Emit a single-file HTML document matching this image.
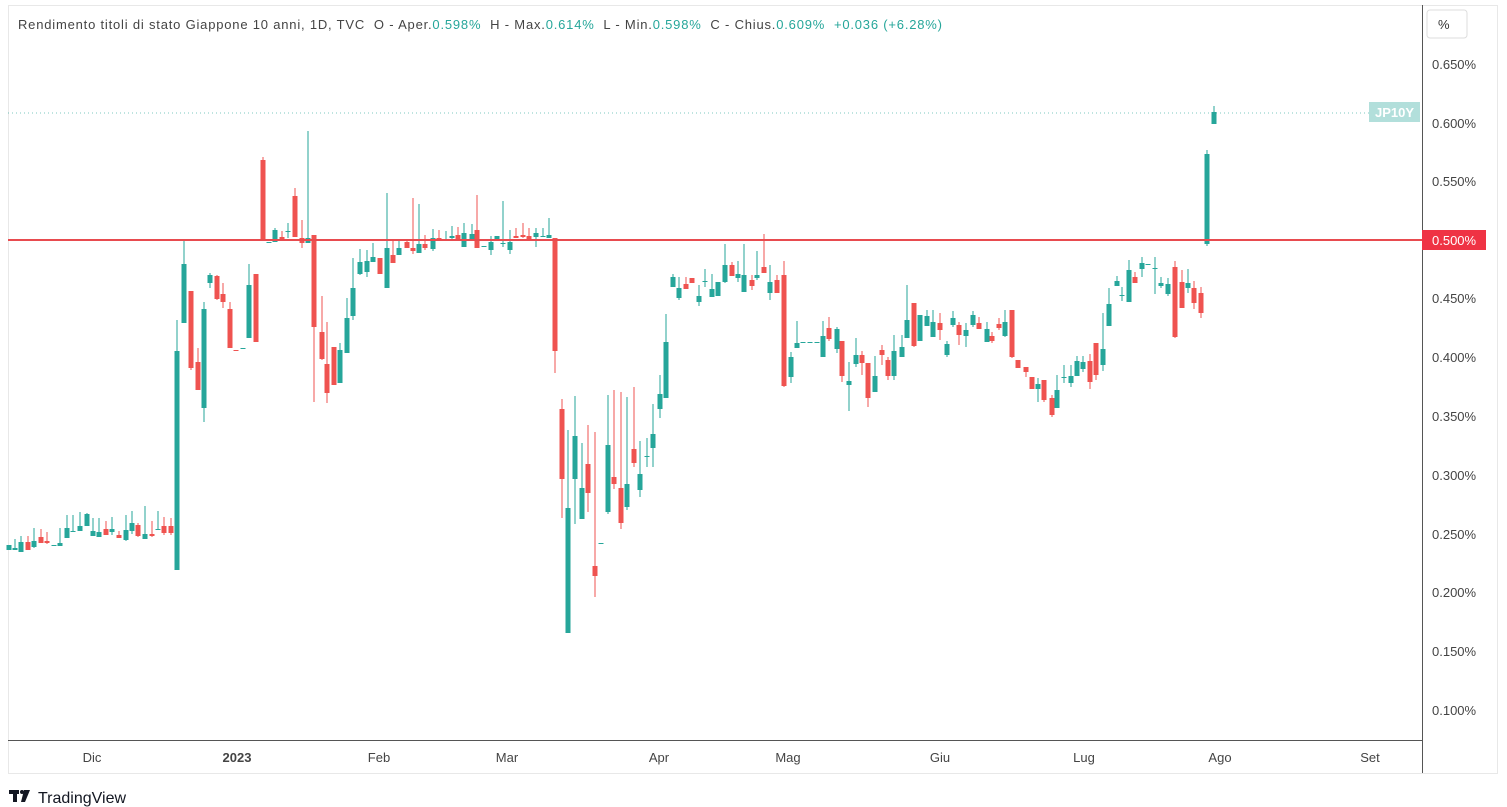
<!DOCTYPE html>
<html><head><meta charset="utf-8"><style>
body{margin:0;width:1507px;height:807px;background:#fff;overflow:hidden;font-family:"Liberation Sans",sans-serif}
svg{position:absolute;left:0;top:0}
</style></head><body>
<svg id="s" width="1507" height="807" xmlns="http://www.w3.org/2000/svg">
<rect x="8.5" y="5.5" width="1489" height="768" fill="#fff" stroke="#e8e8e8"/>
<line x1="1422.5" y1="5" x2="1422.5" y2="773" stroke="#555"/>
<line x1="8" y1="740.5" x2="1422" y2="740.5" stroke="#555"/>
<line x1="8" y1="113" x2="1370" y2="113" stroke="#26a69a" stroke-dasharray="1,3" opacity="0.6"/>
<g id="c"></g>
<line x1="8" y1="240" x2="1422" y2="240" stroke="#e84b4f" stroke-width="2"/>
<g font-size="13" fill="#444">
<text x="1432" y="69">0.650%</text><text x="1432" y="128">0.600%</text><text x="1432" y="186">0.550%</text>
<text x="1432" y="303">0.450%</text><text x="1432" y="362">0.400%</text><text x="1432" y="421">0.350%</text>
<text x="1432" y="480">0.300%</text><text x="1432" y="539">0.250%</text><text x="1432" y="597">0.200%</text>
<text x="1432" y="656">0.150%</text><text x="1432" y="715">0.100%</text>
</g>
<rect x="1422" y="230" width="64" height="20" fill="#ef3344"/>
<text x="1432" y="245" font-size="13" fill="#fff">0.500%</text>
<rect x="1369" y="102" width="51" height="20" fill="#b2dfdb"/>
<text x="1375" y="117" font-size="13" fill="#fff" font-weight="bold">JP10Y</text>
<rect x="1427" y="10" width="40" height="28" rx="3" fill="#fff" stroke="#ddd"/>
<text x="1438" y="29" font-size="13" fill="#333">%</text>
<g font-size="13" fill="#444" text-anchor="middle">
<text x="92" y="762">Dic</text><text x="237" y="762" font-weight="bold">2023</text><text x="379" y="762">Feb</text>
<text x="507" y="762">Mar</text><text x="659" y="762">Apr</text><text x="788" y="762">Mag</text>
<text x="940" y="762">Giu</text><text x="1084" y="762">Lug</text><text x="1220" y="762">Ago</text><text x="1370" y="762">Set</text>
</g>
<text x="18" y="29" font-size="13" fill="#444" xml:space="preserve" textLength="924" lengthAdjust="spacing">Rendimento titoli di stato Giappone 10 anni, 1D, TVC  O - Aper.<tspan fill="#26a69a">0.598%</tspan>  H - Max.<tspan fill="#26a69a">0.614%</tspan>  L - Min.<tspan fill="#26a69a">0.598%</tspan>  C - Chius.<tspan fill="#26a69a">0.609%</tspan>  <tspan fill="#26a69a">+0.036 (+6.28%)</tspan></text>
<g fill="#131722"><rect x="9" y="790" width="10" height="4"/><rect x="13" y="790" width="4" height="12"/><circle cx="22" cy="792" r="2"/><polygon points="24,790 30,790 25,802 21,802"/></g>
<text x="38" y="803" font-size="16" fill="#131722">TradingView</text>
</svg>
<script>
var d="9,545,550,545,550,g;15,548,550,539,550,g;21,542,552,536,552,g;28,542,550,536,550,r;34,541,547,528,548,g;41,537,543,529,543,r;47,541,543,532,544,r;54,545,546,545,546,g;60,543,546,528,546,g;67,528,538,515,538,g;73,531,532,515,532,g;80,526,531,512,531,g;87,514,526,513,526,g;93,531,536,518,536,g;99,532,537,518,537,g;106,529,535,521,535,r;112,529,532,517,535,g;119,535,538,531,538,r;126,530,540,515,541,g;132,523,531,511,534,g;138,525,536,523,537,r;145,534,539,506,539,g;152,534,536,521,537,r;158,529,530,511,530,g;164,526,533,517,535,r;171,526,533,518,535,r;177,351,570,320,570,g;184,264,323,240,323,g;191,291,368,291,370,r;198,362,390,348,390,r;204,309,408,302,422,g;210,275,283,273,288,g;217,276,299,275,300,r;223,294,302,283,308,r;230,309,348,302,348,r;236,350,351,350,351,r;243,348,349,348,349,g;249,285,338,264,338,g;256,274,342,274,342,r;263,160,240,157,240,r;269,242,243,242,243,g;275,230,242,228,242,g;282,237,239,231,240,r;288,231,232,223,238,g;295,196,237,188,237,r;302,238,243,220,248,r;308,238,243,131,243,g;314,235,327,235,402,r;322,332,359,296,360,r;327,364,393,322,403,r;334,347,385,347,385,r;340,350,383,343,383,g;347,318,353,298,353,g;353,288,316,258,320,g;360,262,274,249,275,g;367,261,272,250,277,g;373,257,262,243,262,g;380,258,274,258,274,r;387,248,288,193,288,g;393,255,263,240,263,r;399,248,255,240,255,g;407,242,248,240,248,r;413,248,251,198,254,r;419,244,253,204,253,g;425,244,248,235,250,r;433,238,249,229,251,g;439,238,240,230,241,r;446,240,241,231,241,g;452,236,238,226,239,g;458,235,240,227,240,r;464,233,247,223,247,g;472,234,239,224,239,g;477,230,248,195,248,r;484,246,247,246,247,g;491,242,250,236,255,g;497,236,240,236,240,g;503,243,244,201,247,g;510,242,250,230,254,g;516,236,238,228,238,r;523,235,237,223,238,r;529,236,240,228,241,r;536,233,237,228,247,g;543,236,237,228,237,g;549,235,238,218,238,g;555,238,351,238,373,r;562,409,479,399,518,r;568,508,633,430,633,g;575,436,479,396,524,g;582,488,519,443,519,g;588,464,493,425,512,r;595,566,576,432,597,r;601,543,544,543,544,g;608,445,512,395,514,g;614,477,484,390,489,r;621,488,523,392,529,r;627,484,507,397,510,g;634,449,463,387,467,r;640,474,490,441,497,g;647,456,457,438,467,g;653,434,448,404,467,g;660,394,409,375,418,g;666,342,398,314,398,g;673,277,287,274,287,g;679,288,298,277,300,g;686,284,289,277,289,r;692,278,283,278,283,r;699,296,302,285,306,g;705,281,282,269,287,g;712,289,297,274,297,g;718,282,296,282,296,g;725,265,282,244,283,g;732,265,276,262,276,r;738,274,278,261,282,g;744,275,292,244,292,g;752,280,286,275,290,r;757,275,278,251,280,g;764,267,273,234,273,r;770,282,293,265,300,g;777,280,293,275,293,r;784,275,386,261,387,r;791,357,377,352,383,g;797,343,348,321,348,g;803,342,343,342,343,g;810,342,343,342,343,g;817,342,343,342,343,g;823,336,357,321,357,g;829,328,339,317,341,r;837,329,349,327,353,g;842,341,376,341,382,r;849,381,385,362,411,g;856,355,364,338,367,g;862,355,363,351,375,r;868,363,398,363,407,r;875,376,392,356,392,g;882,350,355,345,365,r;888,360,376,357,380,r;894,351,376,335,380,g;902,347,357,335,357,g;907,320,338,285,338,g;914,303,346,303,347,r;920,315,341,315,341,g;927,316,326,310,326,g;933,322,337,310,337,g;940,323,330,313,340,r;947,344,355,341,357,g;953,318,325,311,327,g;959,325,335,322,345,r;966,330,336,323,347,g;973,315,325,311,327,g;979,323,329,317,329,r;987,329,342,322,342,g;992,336,341,332,343,r;999,324,328,318,330,r;1005,322,336,310,337,g;1012,310,357,310,358,r;1018,360,368,360,368,r;1026,367,372,367,377,r;1032,377,389,377,389,r;1038,384,389,378,402,g;1044,380,400,380,402,r;1052,398,415,395,417,r;1057,390,408,375,408,g;1064,377,378,365,383,g;1071,376,383,365,387,g;1077,361,376,356,376,g;1083,362,369,356,372,g;1090,361,382,354,389,r;1096,343,375,343,380,r;1103,349,365,313,371,g;1109,304,326,288,326,g;1117,281,286,276,286,g;1122,295,296,287,301,g;1129,270,302,260,302,g;1135,277,283,272,283,r;1142,263,269,257,277,g;1148,264,265,264,265,g;1155,268,269,257,294,g;1161,283,286,277,288,g;1168,284,294,278,296,g;1175,267,337,261,338,r;1182,282,308,270,308,r;1188,283,288,269,293,g;1194,288,303,281,309,r;1201,293,313,287,318,r;1207,154,244,150,246,g;1214,112,124,106,124,g";
var h="";d.split(";").forEach(function(s){var a=s.split(",");var x=+a[0],o=+a[1],c=+a[2],hi=+a[3],lo=+a[4];var col=a[5]=="g"?"#26a69a":"#ef5350";
h+='<rect x="'+(x-0.5)+'" y="'+hi+'" width="1" height="'+Math.max(1,lo-hi)+'" fill="'+col+'"/>';
h+='<rect x="'+(x-2.5)+'" y="'+o+'" width="5" height="'+Math.max(1,c-o)+'" fill="'+col+'"/>';});
document.getElementById("c").innerHTML=h;
</script>
</body></html>
